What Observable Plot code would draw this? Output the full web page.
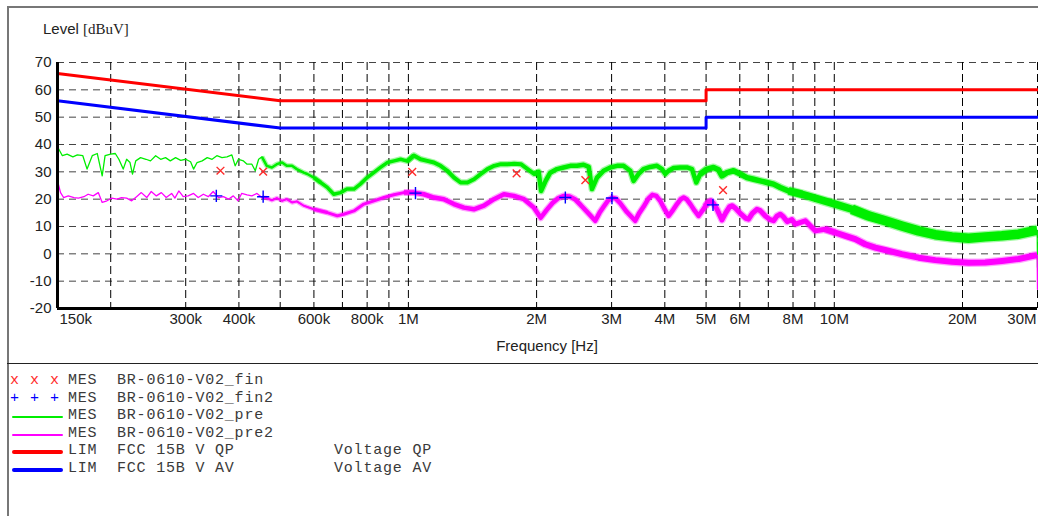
<!DOCTYPE html>
<html>
<head>
<meta charset="utf-8">
<script src="https://cdn.jsdelivr.net/npm/d3@7"></script>
<script src="https://cdn.jsdelivr.net/npm/@observablehq/plot@0.6"></script>
<style>
  html, body { margin: 0; padding: 0; background: #fff; }
  #wrap { position: relative; width: 1038px; height: 516px; overflow: hidden; background: #fff; }
  #plot { position: absolute; left: 0; top: 0; }
  .abs { position: absolute; white-space: pre; }
  .sans { font-family: "Liberation Sans", Arial, sans-serif; color: #222; }
  .mono { font-family: "Liberation Mono", "Courier New", monospace; font-size: 15px; letter-spacing: 0.8px; color: #3a3a3a; line-height: 18px; }
</style>
</head>
<body>
<div id="wrap">
  <div class="abs" style="left:7px;top:6px;width:2px;height:510px;background:#777"></div>
  <div class="abs" style="left:7px;top:6px;width:1031px;height:2px;background:#777"></div>
  <div id="plot"></div>
  <div class="abs" style="left:7px;top:363px;width:1031px;height:1px;background:#222"></div>
  <div class="abs sans" style="left:43px;top:20px;font-size:15px;"><span>Level </span><span style="font-family:'Liberation Serif','Times New Roman',serif;font-size:15px;">[dBuV]</span></div>
  <div class="abs sans" style="left:0;width:1094px;text-align:center;top:337px;font-size:15px;">Frequency [Hz]</div>
  <div id="legend"></div>
</div>
<script>
// ---------- data ----------
const limitFreq = [0.15, 0.5, 5, 5, 30];            // MHz
const qpLevel   = [66, 56, 56, 60, 60];             // dBuV
const avLevel   = [56, 46, 46, 50, 50];

const finFreq   = [0.362, 0.456, 1.021, 1.795, 2.603, 5.48];
const finLevel  = [30.4, 30.1, 30.0, 29.4, 27.0, 23.3];
const fin2Freq  = [0.354, 0.456, 1.039, 2.336, 3.006, 5.19];
const fin2Level = [21.2, 20.9, 22.2, 20.6, 20.4, 17.9];

const preFreq = [0.150,0.154,0.158,0.163,0.167,0.172,0.176,0.181,0.186,0.191,0.194,0.200,0.205,0.209,0.214,0.218,0.222,0.225,0.229,0.235,
  0.242,0.248,0.255,0.262,0.269,0.276,0.284,0.292,0.300,0.308,0.313,0.319,0.328,0.337,0.346,0.355,0.365,0.375,0.385,0.392,
  0.399,0.410,0.418,0.429,0.437,0.445,0.453,0.465,0.478,0.491,0.505,0.518,0.533,0.547,0.568,0.579,0.600,0.622,0.645,0.668,
  0.693,0.717,0.745,0.771,0.800,0.829,0.860,0.892,0.926,0.959,0.994,1.030,1.068,1.107,1.148,1.190,1.234,1.280,1.326,1.376,
  1.426,1.479,1.533,1.590,1.649,1.709,1.772,1.837,1.905,1.976,2.022,2.050,2.100,2.153,2.233,2.314,2.400,2.489,2.578,2.651,
  2.698,2.772,2.873,2.979,3.089,3.201,3.319,3.378,3.470,3.565,3.697,3.834,3.939,4.010,4.083,4.194,4.349,4.510,4.633,4.742,
  4.845,5.024,5.206,5.348,5.448,5.597,5.800,6.014,6.236,6.463,6.701,6.948,7.201,7.467,7.810,8.400,9.180,10.05,11.00,12.03,
  13.17,14.41,15.77,17.26,18.89,20.66,22.62,24.75,27.08,29.36,29.95,30.0];
const preLevel = [39.2,35.9,36.5,35.5,36.2,35.9,31.0,35.9,36.7,28.5,35.9,36.5,36.7,34.6,31.0,34.6,33.4,29.2,34.0,35.2,
  34.6,34.0,35.9,34.6,35.2,34.0,35.2,34.2,34.6,33.7,31.0,33.4,34.0,35.2,34.6,35.9,35.2,35.5,36.2,32.2,
  34.6,34.0,32.8,32.8,30.4,34.6,35.5,32.2,31.6,32.8,33.4,32.2,32.2,31.0,29.7,29.2,27.9,26.1,24.3,21.8,
  22.4,23.7,23.7,25.5,27.9,29.7,31.6,33.4,34.0,34.6,33.9,36.0,34.6,34.0,33.4,32.2,30.4,27.9,26.1,26.1,
  27.3,29.2,31.0,32.2,32.8,32.8,33.0,32.8,31.0,29.2,30.0,23.0,26.7,29.7,31.0,31.6,32.2,32.2,32.6,31.8,
  23.7,27.9,30.4,31.6,32.2,32.2,30.4,26.7,29.2,31.0,31.8,32.2,31.0,29.2,30.4,31.4,31.6,31.6,31.0,26.1,
  29.2,31.0,31.6,30.8,28.5,29.7,30.4,29.2,27.9,27.3,26.7,26.1,25.5,24.3,23.0,21.8,20.0,18.2,16.3,13.9,
  12.1,10.2,8.4,7.0,6.2,5.7,6.2,6.6,7.2,8.4,8.6,-5];

const pre2Freq = [0.150,0.1525,0.155,0.159,0.164,0.168,0.173,0.177,0.182,0.187,0.191,0.196,0.201,0.207,0.212,0.218,0.224,0.230,0.236,0.243,
  0.249,0.256,0.263,0.270,0.278,0.283,0.289,0.296,0.304,0.313,0.321,0.330,0.339,0.348,0.358,0.368,0.378,0.388,0.398,0.406,
  0.418,0.429,0.441,0.453,0.465,0.478,0.491,0.505,0.518,0.533,0.547,0.568,0.600,0.645,0.681,0.705,0.745,0.786,0.830,0.876,
  0.924,0.976,1.030,1.087,1.148,1.211,1.279,1.350,1.425,1.504,1.588,1.676,1.769,1.868,1.971,2.045,
  2.110,2.180,2.250,2.320,2.390,2.460,2.540,2.626,2.746,
  2.810,2.873,2.940,3.006,3.070,3.140,3.259,3.408,
  3.480,3.565,3.660,3.740,3.820,3.900,3.990,4.083,
  4.180,4.272,4.360,4.430,4.500,4.600,4.700,4.800,
  4.900,4.977,5.060,5.130,5.200,5.300,5.448,
  5.560,5.680,5.760,5.850,6.014,6.200,6.290,
  6.420,6.580,6.700,6.880,7.050,7.200,7.330,7.467,7.600,7.750,7.950,
  8.10,8.55,9.02,9.52,10.05,10.61,11.2,11.82,12.48,13.17,14.41,15.77,17.26,
  18.89,20.66,22.62,24.75,27.08,29.36,29.95,30.0];
const pre2Level = [26.7,22.4,20.6,21.2,20.6,20.4,20.9,21.8,21.2,22.4,18.8,19.4,20.4,20.0,20.6,20.4,19.4,20.9,22.4,20.6,
  22.8,21.2,22.4,20.6,22.1,20.4,23.0,20.9,21.2,22.1,20.6,21.8,20.9,22.8,20.6,20.9,20.0,21.2,19.4,22.1,
  21.6,21.2,22.1,20.6,20.4,19.6,20.4,19.4,20.0,18.8,19.2,17.6,16.3,15.1,13.9,14.5,15.7,18.2,19.4,20.6,
  21.6,22.4,22.4,21.8,20.6,20.0,18.2,16.9,16.3,17.6,20.0,21.8,21.2,20.0,16.9,13.2,
  16.0,18.6,20.4,21.2,21.0,20.0,17.8,15.4,12.1,
  15.0,17.2,19.4,20.5,20.2,18.6,15.3,12.1,
  14.8,17.2,20.2,21.6,21.2,19.4,16.5,13.9,
  16.0,18.2,20.0,20.6,20.0,18.0,15.8,13.9,
  15.8,17.4,19.0,19.4,18.5,16.4,12.4,
  15.0,17.3,17.6,16.8,14.8,13.0,12.7,
  14.8,16.3,15.8,13.9,12.6,12.1,13.8,14.5,13.5,11.8,12.5,
  10.9,12.1,8.4,9.0,7.8,6.6,5.4,3.5,2.3,1.4,-0.1,-1.4,-2.3,
  -2.9,-3.3,-3.2,-2.6,-1.9,-0.7,-0.5,-13];

const xTickValues = [0.15, 0.3, 0.4, 0.6, 0.8, 1, 2, 3, 4, 5, 6, 8, 10, 20, 30];
const xTickLabels = ["150k","300k","400k","600k","800k","1M","2M","3M","4M","5M","6M","8M","10M","20M","30M"];
const xGridValues = [0.2,0.3,0.4,0.5,0.6,0.7,0.8,0.9,1,2,3,4,5,6,7,8,9,10,20,30];
const yTickValues = [-20,-10,0,10,20,30,40,50,60,70];
const yGridValues = [-10,0,10,20,30,40,50,60,70];

const legendRows = [
  {sym: "x", name: "MES", trace: "BR-0610-V02_fin", note: ""},
  {sym: "+", name: "MES", trace: "BR-0610-V02_fin2", note: ""},
  {sym: "pre", name: "MES", trace: "BR-0610-V02_pre", note: ""},
  {sym: "pre2", name: "MES", trace: "BR-0610-V02_pre2", note: ""},
  {sym: "qp", name: "LIM", trace: "FCC 15B V QP", note: "Voltage QP"},
  {sym: "av", name: "LIM", trace: "FCC 15B V AV", note: "Voltage AV"}
];

// ---------- build ----------
const zip = (fs, vs) => fs.map((f, i) => ({f, v: vs[i]}));
const qp = zip(limitFreq, qpLevel), av = zip(limitFreq, avLevel);
const fin = zip(finFreq, finLevel), fin2 = zip(fin2Freq, fin2Level);
const pre = zip(preFreq, preLevel), pre2 = zip(pre2Freq, pre2Level);

function slice(data, a, b) {
  let i0 = 0; while (i0 + 1 < data.length && data[i0 + 1].f <= a) i0++;
  let i1 = data.length - 1; while (i1 - 1 >= 0 && data[i1 - 1].f >= b) i1--;
  return data.slice(i0, i1 + 1);
}
const GREEN = "#00ee00", MAGENTA = "#ff00ff";
// noise-band thickness (style only): [from MHz, to MHz, px]
const greenWidths = [[0.46,0.62,2.5],[0.62,1.0,3.5],[1.0,2.0,4],[2.0,5.0,4.5],[5.0,8.0,5.5],[8.0,12,7.5],[12,29.95,9.5]];
const magWidths   = [[0.46,0.62,2],[0.62,1.0,3],[1.0,5.0,4.5],[5.0,10,5],[10,29.95,6]];

const bandMarks = (data, widths, color) => widths.flatMap(([a, b, w]) => [
  Plot.line(slice(data, a, b), {x: "f", y: "v", stroke: color, strokeOpacity: 0.35, strokeWidth: w + 2.5, strokeLinejoin: "round", strokeLinecap: "butt"}),
  Plot.line(slice(data, a, b), {x: "f", y: "v", stroke: color, strokeWidth: w, strokeLinejoin: "round", strokeLinecap: "butt"})
]);

const chart = Plot.plot({
  width: 1038, height: 362,
  marginLeft: 57, marginRight: 1, marginTop: 62, marginBottom: 54,
  x: {type: "log", domain: [0.15, 30], axis: null},
  y: {domain: [-20, 70], axis: null},
  style: {fontFamily: "'Liberation Sans', Arial, sans-serif", fontSize: "15px", color: "#222", background: "transparent"},
  marks: [
    Plot.ruleY(yGridValues, {stroke: "#444", strokeWidth: 1, strokeDasharray: "7,5"}),
    Plot.ruleX(xGridValues, {stroke: "#000", strokeWidth: 1, strokeDasharray: "8,4"}),
    Plot.line(pre, {x: "f", y: "v", stroke: GREEN, strokeWidth: 1.3}),
    ...bandMarks(pre, greenWidths, GREEN),
    Plot.line(pre2, {x: "f", y: "v", stroke: MAGENTA, strokeWidth: 1.3}),
    ...bandMarks(pre2, magWidths, MAGENTA),
    Plot.line(qp, {x: "f", y: "v", stroke: "#ff0000", strokeWidth: 3}),
    Plot.line(av, {x: "f", y: "v", stroke: "#0000ff", strokeWidth: 3}),
    Plot.dot(fin, {x: "f", y: "v", symbol: "times", r: 3.6, stroke: "#ff2a2a", strokeWidth: 1.4}),
    Plot.dot(fin2, {x: "f", y: "v", symbol: "plus", r: 4, stroke: "#0000ff", strokeWidth: 1.4}),
    Plot.ruleX([0.15], {stroke: "#000", strokeWidth: 3}),
    Plot.ruleY([-20], {stroke: "#000", strokeWidth: 3}),
    Plot.text(yTickValues, {y: d => d, text: d => String(d), frameAnchor: "left", textAnchor: "end", dx: -6}),
    Plot.text(xTickValues.slice(1, -1), {x: d => d, text: (d, i) => xTickLabels[i + 1], frameAnchor: "bottom", dy: 15}),
    Plot.text([xTickValues[0]], {x: d => d, text: () => xTickLabels[0], frameAnchor: "bottom", dy: 15, textAnchor: "start", dx: 2}),
    Plot.text([xTickValues[xTickValues.length - 1]], {x: d => d, text: () => xTickLabels[xTickLabels.length - 1], frameAnchor: "bottom", dy: 15, textAnchor: "end", dx: -1})
  ]
});
document.getElementById("plot").appendChild(chart);

// ---------- legend ----------
const lg = document.getElementById("legend");
const rowTop = 373, rowStep = 17.5;
legendRows.forEach((r, i) => {
  const cy = rowTop + i * rowStep + 9;
  if (r.sym === "x" || r.sym === "+") {
    const col = r.sym === "x" ? "#ff2a2a" : "#0000ff";
    [15, 35, 55].forEach(x => {
      const s = document.createElement("div");
      s.className = "abs mono";
      s.style.cssText += `left:${x - 5}px;top:${cy - 10}px;color:${col};letter-spacing:0;`;
      s.textContent = r.sym;
      lg.appendChild(s);
    });
  } else {
    const colors = {pre: GREEN, pre2: MAGENTA, qp: "#ff0000", av: "#0000ff"};
    const w = (r.sym === "qp" || r.sym === "av") ? 4 : 2;
    const l = document.createElement("div");
    l.className = "abs";
    l.style.cssText = `left:12px;top:${cy - w / 2}px;width:51px;height:${w}px;background:${colors[r.sym]};border-radius:${w/2}px;`;
    lg.appendChild(l);
  }
  const t1 = document.createElement("div");
  t1.className = "abs mono"; t1.style.left = "68px"; t1.style.top = (cy - 10) + "px";
  t1.textContent = r.name; lg.appendChild(t1);
  const t2 = document.createElement("div");
  t2.className = "abs mono"; t2.style.left = "117px"; t2.style.top = (cy - 10) + "px";
  t2.textContent = r.trace; lg.appendChild(t2);
  if (r.note) {
    const t3 = document.createElement("div");
    t3.className = "abs mono"; t3.style.left = "334px"; t3.style.top = (cy - 10) + "px";
    t3.textContent = r.note; lg.appendChild(t3);
  }
});
</script>
</body>
</html>
